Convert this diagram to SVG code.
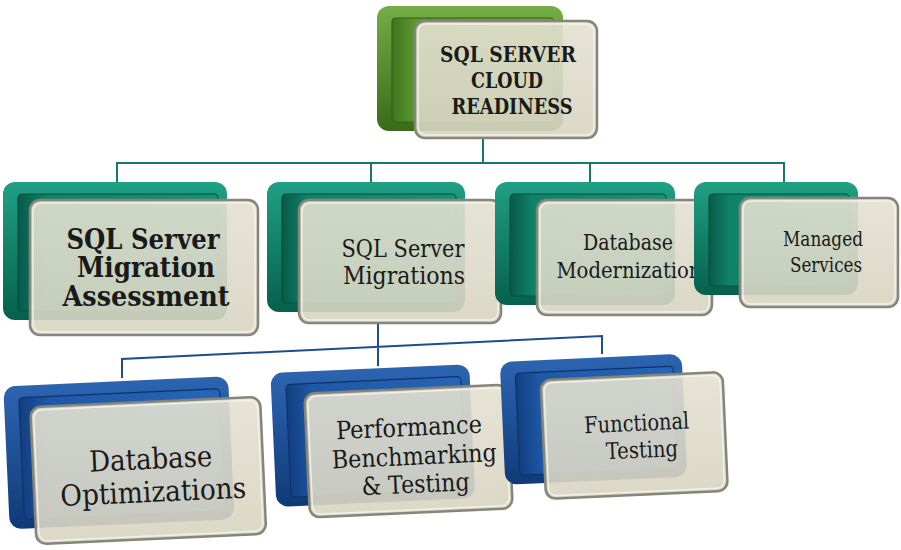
<svg xmlns="http://www.w3.org/2000/svg" width="901" height="550" viewBox="0 0 901 550">
<defs>
<linearGradient id="gOut" x1="0" y1="0" x2="0" y2="1"><stop offset="0" stop-color="#74ad45"/><stop offset="1" stop-color="#3a6b18"/></linearGradient>
<linearGradient id="gIn" x1="0" y1="0" x2="1" y2="0"><stop offset="0" stop-color="#3f7420"/><stop offset="0.15" stop-color="#5c9a32"/><stop offset="1" stop-color="#68a73a"/></linearGradient>
<linearGradient id="tOut" x1="0" y1="0" x2="0" y2="1"><stop offset="0" stop-color="#1fa084"/><stop offset="1" stop-color="#06604c"/></linearGradient>
<linearGradient id="tIn" x1="0" y1="0" x2="1" y2="0"><stop offset="0" stop-color="#075a48"/><stop offset="0.15" stop-color="#0f8369"/><stop offset="1" stop-color="#139276"/></linearGradient>
<linearGradient id="bOut" x1="0" y1="0" x2="0" y2="1"><stop offset="0" stop-color="#2d64b0"/><stop offset="1" stop-color="#0f3a78"/></linearGradient>
<linearGradient id="bIn" x1="0" y1="0" x2="1" y2="0"><stop offset="0" stop-color="#123f80"/><stop offset="0.15" stop-color="#1f58a6"/><stop offset="1" stop-color="#2865b6"/></linearGradient>
<linearGradient id="fr" x1="0" y1="0" x2="0" y2="1"><stop offset="0" stop-color="#e4e1d1"/><stop offset="1" stop-color="#d8d4c2"/></linearGradient>
</defs>
<style>
.gO{fill:url(#gOut)}.gI{fill:url(#gIn);stroke:#345f16;stroke-width:1.2}
.tO{fill:url(#tOut)}.tI{fill:url(#tIn);stroke:#06503f;stroke-width:1.2}
.bO{fill:url(#bOut)}.bI{fill:url(#bIn);stroke:#0d336b;stroke-width:1.2}
.fr{fill:url(#fr);fill-opacity:0.9;stroke:#86857a;stroke-width:2.5}
.hl{fill:none;stroke:#f8f6ee;stroke-width:1.5;opacity:0.8}
.tx{font-family:"DejaVu Serif Condensed","DejaVu Serif","Liberation Serif",serif;fill:#1a1a1a;text-anchor:middle}
.bd{font-weight:bold}
.cT{fill:none;stroke:#17776a;stroke-width:2}
.cB{fill:none;stroke:#1f4c8c;stroke-width:2}
</style>

<g id="connectors">
<path class="cT" d="M483 138V163M117 183V163H784V183M371 163V183M590 163V183"/>
<path class="cB" d="M378 323V366M122 378V359L602 336V354"/>
</g>

<g id="node-top">
<rect class="gO" x="377" y="6" width="186" height="125" rx="12"/>
<rect class="gI" x="392" y="18" width="162" height="104" rx="4"/>
<rect class="fr" x="415" y="21" width="182" height="117" rx="10"/>
<rect class="hl" x="418" y="24" width="176" height="111" rx="8"/>
<g class="tx bd" font-size="22">
<text x="508" y="62" textLength="136" lengthAdjust="spacingAndGlyphs">SQL SERVER</text>
<text x="507" y="88" textLength="72" lengthAdjust="spacingAndGlyphs">CLOUD</text>
<text x="512" y="114" textLength="121" lengthAdjust="spacingAndGlyphs">READINESS</text>
</g>
</g>

<g id="node-assessment">
<rect class="tO" x="3" y="182" width="224" height="138" rx="12"/>
<rect class="tI" x="18" y="194" width="200" height="117" rx="4"/>
<rect class="fr" x="30" y="200" width="228" height="135" rx="10"/>
<rect class="hl" x="33" y="203" width="222" height="129" rx="8"/>
<g class="tx bd" font-size="27">
<text x="143" y="249" textLength="153" lengthAdjust="spacingAndGlyphs">SQL Server</text>
<text x="146" y="277" textLength="138" lengthAdjust="spacingAndGlyphs">Migration</text>
<text x="146" y="306" textLength="167" lengthAdjust="spacingAndGlyphs">Assessment</text>
</g>
</g>

<g id="node-migrations">
<rect class="tO" x="267" y="182" width="198" height="130" rx="12"/>
<rect class="tI" x="282" y="194" width="174" height="109" rx="4"/>
<rect class="fr" x="299" y="200" width="202" height="123" rx="10"/>
<rect class="hl" x="302" y="203" width="196" height="117" rx="8"/>
<g class="tx" font-size="25">
<text x="403" y="257" textLength="123" lengthAdjust="spacingAndGlyphs">SQL Server</text>
<text x="404" y="284" textLength="122" lengthAdjust="spacingAndGlyphs">Migrations</text>
</g>
</g>

<g id="node-modernization">
<rect class="tO" x="495" y="182" width="180" height="123" rx="12"/>
<rect class="tI" x="510" y="194" width="156" height="102" rx="4"/>
<rect class="fr" x="537" y="200" width="175" height="115" rx="10"/>
<rect class="hl" x="540" y="203" width="169" height="109" rx="8"/>
<g class="tx" font-size="22">
<text x="628" y="250" textLength="90" lengthAdjust="spacingAndGlyphs">Database</text>
<text x="629" y="278" textLength="145" lengthAdjust="spacingAndGlyphs">Modernization</text>
</g>
</g>

<g id="node-managed">
<rect class="tO" x="694" y="182" width="164" height="113" rx="12"/>
<rect class="tI" x="709" y="194" width="140" height="92" rx="4"/>
<rect class="fr" x="740" y="198" width="158" height="109" rx="10"/>
<rect class="hl" x="743" y="201" width="152" height="103" rx="8"/>
<g class="tx" font-size="21">
<text x="823" y="246" textLength="80" lengthAdjust="spacingAndGlyphs">Managed</text>
<text x="826" y="272" textLength="72" lengthAdjust="spacingAndGlyphs">Services</text>
</g>
</g>

<g id="node-optimizations" transform="rotate(-2.6 148 465)">
<rect class="bO" x="7" y="380" width="225" height="143" rx="12"/>
<rect class="bI" x="22" y="392" width="201" height="122" rx="4"/>
<rect class="fr" x="33" y="402" width="230" height="137" rx="10"/>
<rect class="hl" x="36" y="405" width="224" height="131" rx="8"/>
<g class="tx" font-size="29">
<text x="151" y="469" textLength="123" lengthAdjust="spacingAndGlyphs">Database</text>
<text x="152" y="502" textLength="186" lengthAdjust="spacingAndGlyphs">Optimizations</text>
</g>
</g>

<g id="node-performance" transform="rotate(-2.6 408 450)">
<rect class="bO" x="274" y="367" width="199" height="134" rx="12"/>
<rect class="bI" x="289" y="379" width="175" height="113" rx="4"/>
<rect class="fr" x="307" y="389" width="203" height="124" rx="10"/>
<rect class="hl" x="310" y="392" width="197" height="118" rx="8"/>
<g class="tx" font-size="25">
<text x="410" y="436" textLength="146" lengthAdjust="spacingAndGlyphs">Performance</text>
<text x="414" y="465" textLength="165" lengthAdjust="spacingAndGlyphs">Benchmarking</text>
<text x="414" y="493" textLength="108" lengthAdjust="spacingAndGlyphs">&amp; Testing</text>
</g>
</g>

<g id="node-functional" transform="rotate(-2.6 634 430)">
<rect class="bO" x="503" y="356" width="182" height="123" rx="12"/>
<rect class="bI" x="518" y="368" width="158" height="102" rx="4"/>
<rect class="fr" x="543" y="376" width="182" height="119" rx="10"/>
<rect class="hl" x="546" y="379" width="176" height="113" rx="8"/>
<g class="tx" font-size="23">
<text x="637" y="431" textLength="105" lengthAdjust="spacingAndGlyphs">Functional</text>
<text x="641" y="458" textLength="72" lengthAdjust="spacingAndGlyphs">Testing</text>
</g>
</g>
</svg>
